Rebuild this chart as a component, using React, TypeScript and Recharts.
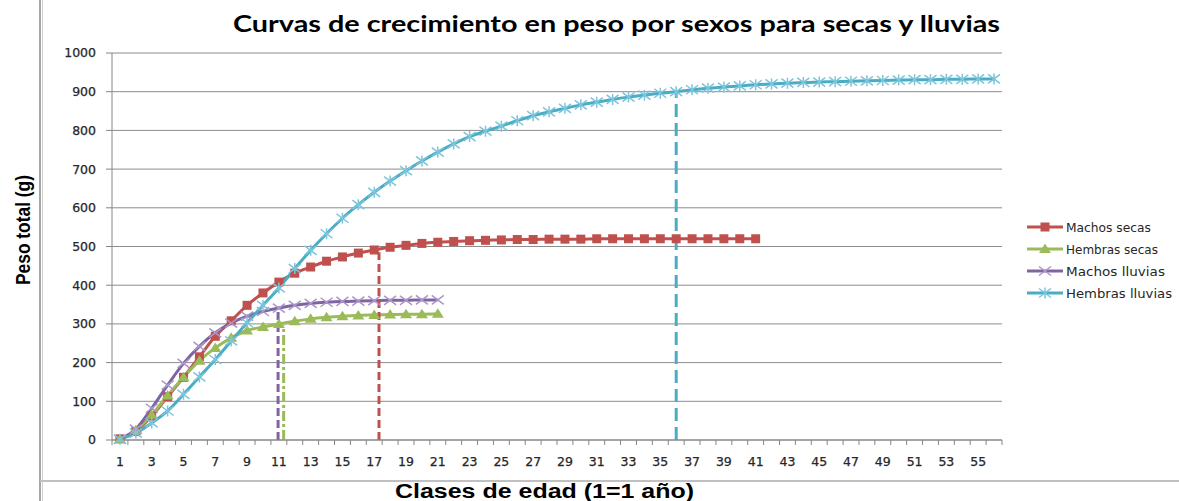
import React from 'react'
import { LineChart, Line, XAxis, YAxis, CartesianGrid, ReferenceLine } from 'recharts'

// peso total (g) por clase de edad
const machosSecas = [3, 22, 62, 112, 162, 215, 268, 308, 348, 380, 408, 431, 447, 462, 473, 483, 491, 498, 503, 508, 511, 513, 515, 516, 517, 518, 518, 519, 519, 519, 520, 520, 520, 520, 520, 520, 520, 520, 520, 520, 520]
const hembrasSecas = [2, 25, 65, 115, 162, 205, 238, 264, 283, 292, 300, 307, 313, 317, 320, 322, 323, 324, 325, 325, 326]
const machosLluvias = [2, 28, 82, 142, 198, 242, 277, 302, 320, 332, 341, 348, 353, 356, 358, 359, 360, 361, 361, 362, 362]
const hembrasLluvias = [2, 18, 44, 75, 118, 163, 208, 256, 303, 348, 393, 443, 490, 533, 573, 608, 640, 669, 696, 721, 744, 765, 784, 798, 811, 825, 838, 848, 857, 866, 873, 880, 886, 891, 896, 900, 905, 909, 912, 915, 918, 920, 922, 924, 925, 926, 927, 928, 929, 930, 931, 931, 932, 932, 933, 933]

// edad de corte y peso donde llega cada linea discontinua
const corteEdad = [17.3, 11.3, 10.95, 36]
const cortePeso = [485, 296, 336, 897]

const nombres = ['Machos secas', 'Hembras secas', 'Machos lluvias', 'Hembras lluvias']
const claves = ['machosSecas', 'hembrasSecas', 'machosLluvias', 'hembrasLluvias']
const colores = ['#C0504D', '#9BBB59', '#8064A2', '#4BACC6']
const trazos = ['8 4', '10 3 3 3', '8 4', '13 6']

const etiquetasX = [1, 3, 5, 7, 9, 11, 13, 15, 17, 19, 21, 23, 25, 27, 29, 31, 33, 35, 37, 39, 41, 43, 45, 47, 49, 51, 53, 55]
const etiquetasY = [0, 100, 200, 300, 400, 500, 600, 700, 800, 900, 1000]

const edades = hembrasLluvias.map((_, i) => i + 1)
const datos = edades.map((edad, i) => ({
  edad,
  machosSecas: machosSecas[i] ?? null,
  hembrasSecas: hembrasSecas[i] ?? null,
  machosLluvias: machosLluvias[i] ?? null,
  hembrasLluvias: hembrasLluvias[i] ?? null,
}))
// marcas del eje x entre clases
const marcasX = edades.map((e) => e - 0.5).concat(edades.length + 0.5)

const tickFont = { fontFamily: 'DejaVu Sans', fontSize: 12.5, fill: '#262626', stroke: '#262626', strokeWidth: 0.25 }

function marker(tipo: number, cx: number, cy: number, key?: any) {
  if (tipo === 0) return <rect key={key} x={cx - 4.5} y={cy - 4.5} width={9} height={9} fill="#C0504D" />
  if (tipo === 1)
    return <polygon key={key} points={`${cx},${cy - 5.5} ${cx - 6},${cy + 4} ${cx + 6},${cy + 4}`} fill="#9BBB59" />
  if (tipo === 2)
    return (
      <path key={key} d={`M${cx - 6},${cy - 4.5}L${cx + 6},${cy + 4.5}M${cx - 6},${cy + 4.5}L${cx + 6},${cy - 4.5}`}
        stroke="#A997C9" strokeWidth={1.5} fill="none" />
    )
  return (
    <path key={key}
      d={`M${cx - 6},${cy - 4.5}L${cx + 6},${cy + 4.5}M${cx - 6},${cy + 4.5}L${cx + 6},${cy - 4.5}M${cx},${cy - 5.5}L${cx},${cy + 5.5}`}
      stroke="#7CC5DA" strokeWidth={1.5} fill="none" />
  )
}

const dotFor = (tipo: number) => (p: any) => {
  if (p.cx == null || p.cy == null || p.value == null) return null
  return marker(tipo, p.cx, p.cy, p.key)
}

export default function App() {
  return (
    <div style={{ position: 'absolute', left: 0, top: 0, width: 1179, height: 501, background: '#fff' }}>
      <LineChart width={1179} height={501} data={datos} margin={{ top: 53, right: 177, left: 52, bottom: 29 }}>
        <CartesianGrid vertical={false} stroke="#8c8c8c" />
        <YAxis type="number" domain={[0, 1000]} ticks={etiquetasY} width={60} tickSize={6} tickMargin={10}
          axisLine={{ stroke: '#868686' }} tickLine={{ stroke: '#868686' }} tick={tickFont} />
        <XAxis type="number" dataKey="edad" domain={[0.5, 56.5]} ticks={marcasX} height={8} tickSize={5}
          tickFormatter={() => ''} axisLine={{ stroke: '#868686' }} tickLine={{ stroke: '#868686' }} />
        <XAxis xAxisId="lbl" type="number" dataKey="edad" domain={[0.5, 56.5]} ticks={etiquetasX} height={24}
          tickSize={0} tickMargin={9} axisLine={false} tickLine={false} tick={tickFont} interval={0} />
        {claves.map((k, i) => (
          <Line key={k} dataKey={k} type="monotone" stroke={colores[i]} strokeWidth={3} dot={dotFor(i)}
            activeDot={false} isAnimationActive={false} />
        ))}
        {corteEdad.map((e, i) => (
          <ReferenceLine key={'c' + i} segment={[{ x: e, y: 0 }, { x: e, y: cortePeso[i] }]}
            stroke={colores[i]} strokeWidth={3} strokeDasharray={trazos[i]} />
        ))}
      </LineChart>
      <svg width={1179} height={501} style={{ position: 'absolute', left: 0, top: 0, pointerEvents: 'none' }}>
        <line x1={40} y1={0} x2={40} y2={501} stroke="#a6a6a6" strokeWidth={2} />
        <line x1={42.5} y1={0} x2={42.5} y2={501} stroke="#d0d0d0" strokeWidth={1} />
        <line x1={40} y1={481} x2={1179} y2={481} stroke="#c0c0c0" strokeWidth={2} />
        <text x={233} y={32} textLength={767} lengthAdjust="spacingAndGlyphs"
          style={{ fontFamily: 'Lato', fontWeight: 700, fontSize: 22, fill: '#000' }}>
          Curvas de crecimiento en peso por sexos para secas y lluvias
        </text>
        <text x={395} y={498} textLength={299} lengthAdjust="spacingAndGlyphs"
          style={{ fontFamily: 'Liberation Sans', fontWeight: 700, fontSize: 20, fill: '#000' }}>
          Clases de edad (1=1 año)
        </text>
        <text transform="translate(30,285) rotate(-90)" x={0} y={0} textLength={110} lengthAdjust="spacingAndGlyphs"
          style={{ fontFamily: 'Liberation Sans', fontWeight: 700, fontSize: 20, fill: '#000' }}>
          Peso total (g)
        </text>
        {nombres.map((n, i) => {
          const y = 227 + i * 22
          return (
            <g key={n}>
              <line x1={1027} y1={y} x2={1063} y2={y} stroke={colores[i]} strokeWidth={3} />
              {marker(i, 1045, y)}
              <text x={1066} y={y + 4.5} textLength={n.length * 7.07} lengthAdjust="spacingAndGlyphs"
                style={{ fontFamily: 'DejaVu Sans', fontSize: 12.5, fill: '#262626' }}>{n}</text>
            </g>
          )
        })}
      </svg>
    </div>
  )
}
